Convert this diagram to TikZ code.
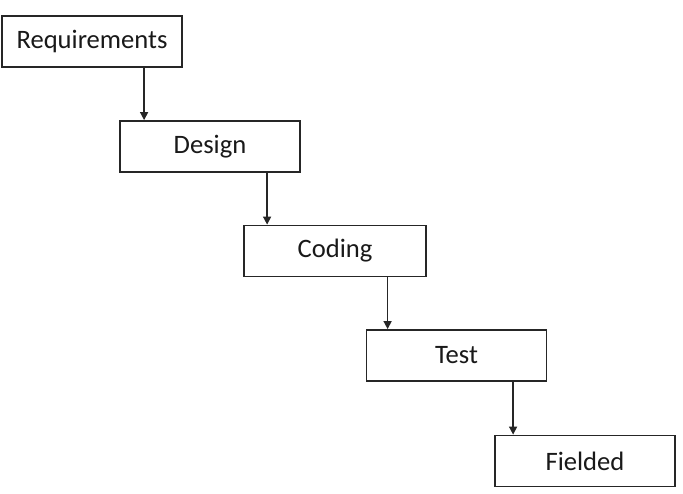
\documentclass[tikz,border=0pt]{standalone}
\usepackage{fontspec}
\setmainfont{Carlito}
\usetikzlibrary{arrows.meta}
\begin{document}
\begin{tikzpicture}[x=1pt,y=-1pt,
  stage/.style={draw=black!85, line width=1.8pt, fill=white, minimum width=180pt,
    minimum height=51pt, inner sep=0pt, font=\fontsize{26.6}{30}\selectfont, text=black!90},
  flow/.style={draw=black!85, line width=1.5pt, -{Triangle[length=8pt,width=8pt]}}]
  \useasboundingbox (0,0) rectangle (683,493);
  \node[stage] (req) at (92,41.5) {Requirements};
  \node[stage] (des) at (210,146.5) {Design};
  \node[stage, minimum width=182pt] (cod) at (335,251) {Coding};
  \node[stage] (tst) at (456.5,355.5) {Test};
  \node[stage] (fld) at (585,461) {Fielded};
  \coordinate (d1) at ([xshift=25pt]des.north west);
  \coordinate (d2) at ([xshift=24pt]cod.north west);
  \coordinate (d3) at ([xshift=22pt]tst.north west);
  \coordinate (d4) at ([xshift=19pt]fld.north west);
  \draw[flow] (req.south -| d1) -- (d1);
  \draw[flow] (des.south -| d2) -- (d2);
  \draw[flow] (cod.south -| d3) -- (d3);
  \draw[flow] (tst.south -| d4) -- (d4);
\end{tikzpicture}
\end{document}
